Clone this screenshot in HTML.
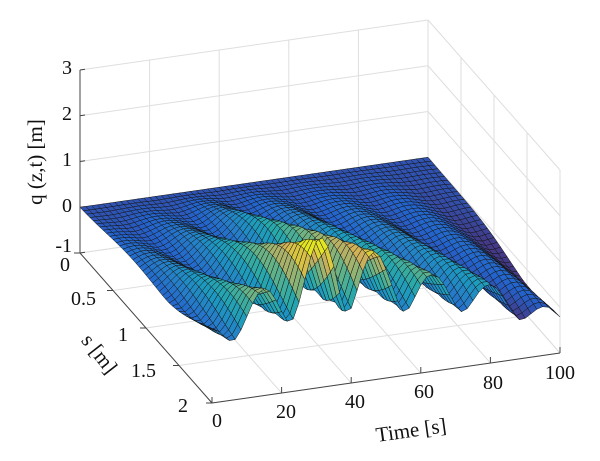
<!DOCTYPE html><html><head><meta charset="utf-8"><style>
body{margin:0;background:#fff}
svg{display:block}
text{font-family:"Liberation Serif","DejaVu Serif",serif}
</style></head><body>
<svg id="s" width="600" height="461" viewBox="0 0 600 461" xmlns="http://www.w3.org/2000/svg">
<g id="grid" stroke="#dedede" stroke-width="1" fill="none"></g>
<g id="surf" stroke="#141414" stroke-width="0.5"></g>
<g id="ax" stroke="#444" stroke-width="1" fill="none"></g>
<g font-size="20" fill="#111" font-family="Liberation Serif, serif">
<text x="72" y="74" text-anchor="end">3</text>
<text x="72" y="120" text-anchor="end">2</text>
<text x="72" y="166" text-anchor="end">1</text>
<text x="72" y="212" text-anchor="end">0</text>
<text x="72" y="252" text-anchor="end">-1</text>
<text x="70" y="271" text-anchor="end">0</text>
<text x="96" y="305" text-anchor="end">0.5</text>
<text x="128" y="341" text-anchor="end">1</text>
<text x="156" y="377" text-anchor="end">1.5</text>
<text x="188" y="412" text-anchor="end">2</text>
<text x="217" y="427" text-anchor="middle">0</text>
<text x="286" y="418" text-anchor="middle">20</text>
<text x="355" y="408" text-anchor="middle">40</text>
<text x="424" y="398" text-anchor="middle">60</text>
<text x="493" y="389" text-anchor="middle">80</text>
<text x="560" y="379" text-anchor="middle">100</text>
<text transform="translate(42,162) rotate(-90)" text-anchor="middle" font-size="21">q (z,t) [m]</text>
<text transform="translate(94,358) rotate(52)" text-anchor="middle" font-size="21">s [m]</text>
<text transform="translate(412,437) rotate(-8)" text-anchor="middle" font-size="21">Time [s]</text>
</g>
</svg>
<script>
function P(s,t,z){return [80+66*s+3.48*t, 253+75*s-0.5*t-45.75*(z+1)];}
function L(g,a,b){var l=document.createElementNS("http://www.w3.org/2000/svg","line");l.setAttribute("x1",a[0]);l.setAttribute("y1",a[1]);l.setAttribute("x2",b[0]);l.setAttribute("y2",b[1]);g.appendChild(l);}
var G=document.getElementById("grid");
for(var t=0;t<=100;t+=20){L(G,P(0,t,-1),P(0,t,3));L(G,P(0,t,-1),P(2,t,-1));}
for(var z=-1;z<=3;z++){L(G,P(0,0,z),P(0,100,z));L(G,P(0,100,z),P(2,100,z));}
for(var s=0;s<=2;s+=0.5){L(G,P(s,0,-1),P(s,100,-1));L(G,P(s,100,-1),P(s,100,3));}
var A=document.getElementById("ax");
L(A,P(0,0,-1),P(0,0,3));L(A,P(0,0,-1),P(2,0,-1));L(A,P(2,0,-1),P(2,100,-1));
for(var z=-1;z<=3;z++){var p=P(0,0,z);L(A,p,[p[0]+5,p[1]-0.7]);}
for(var s=0;s<=2;s+=0.5){var p=P(s,0,-1);L(A,p,[p[0]-6,p[1]]);}
for(var t=0;t<=100;t+=20){var p=P(2,t,-1);L(A,p,[p[0],p[1]-6]);}
function interp(xs,ys,x){for(var i=0;i<xs.length-1;i++){if(x<=xs[i+1]){var f=(x-xs[i])/(xs[i+1]-xs[i]);return ys[i]+f*(ys[i+1]-ys[i]);}}return ys[ys.length-1];}
function q(s,t){
 var c=interp([0,30,64,80,100],[0.2,0.6,0.3,0.1,-0.5],t);
 var a=interp([0,20,35,50,64,100],[0.5,1.1,1.9,1.2,0.8,0.4],t);
 var ph=(t+9*(2-s)-6)/16.5;var f=ph-Math.floor(ph);
 var p=Math.pow(Math.sin(Math.PI*f),1.6);
 var g=Math.pow(s/2,1.3);
 return g*(c+a*p);
}
var st=[[0,53,42,135],[0.125,15,92,221],[0.25,18,125,216],[0.375,7,156,207],[0.5,21,177,180],[0.625,89,189,140],[0.75,165,190,107],[0.875,225,185,82],[1,249,251,14]];
function col(z){var v=(z+0.15)/2.0;v=Math.max(0,Math.min(1,v));for(var i=0;i<st.length-1;i++){if(v<=st[i+1][0]){var f=(v-st[i][0])/(st[i+1][0]-st[i][0]);var r=[1,2,3].map(function(k){var c=st[i][k]+f*(st[i+1][k]-st[i][k]);return Math.round(c*0.82+128*0.18);});return "rgb("+r.join(",")+")";}}return "rgb(227,229,34)";}
var NS=40,NT=60,quads=[];
for(var i=0;i<NS;i++)for(var j=0;j<NT;j++){
 var s0=2*i/NS,s1=2*(i+1)/NS,t0=100*j/NT,t1=100*(j+1)/NT;
 var pts=[[s0,t0],[s1,t0],[s1,t1],[s0,t1]].map(function(a){return [a[0],a[1],q(a[0],a[1])];});
 var zm=(pts[0][2]+pts[1][2]+pts[2][2]+pts[3][2])/4;
 quads.push({d:(s0+s1)/4-(t0+t1)/200*0.9,pts:pts,zm:zm});
}
quads.sort(function(a,b){return a.d-b.d;});
var S=document.getElementById("surf"),h="";
quads.forEach(function(o){var pp=o.pts.map(function(a){var p=P(a[0],a[1],a[2]);return p[0].toFixed(1)+","+p[1].toFixed(1);}).join(" ");h+='<polygon points="'+pp+'" fill="'+col(o.zm)+'"/>';});
S.innerHTML=h;
</script>
</body></html>
